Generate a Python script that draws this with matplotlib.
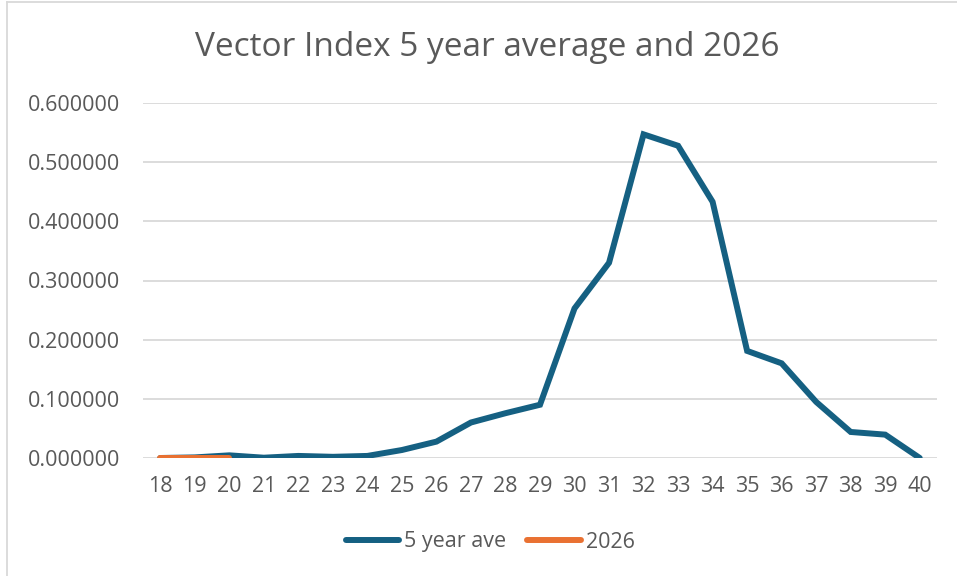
import matplotlib.pyplot as plt
from matplotlib.lines import Line2D

# data
weeks = [str(w) for w in range(18, 41)]
five_year_ave = [0.0, 0.001, 0.0045, 0.0005, 0.0035, 0.002, 0.0035, 0.0135, 0.0277,
                 0.060, 0.0757, 0.0900, 0.2528, 0.330, 0.547, 0.5277, 0.433, 0.181,
                 0.160, 0.0948, 0.044, 0.0395, 0.0]
y2026 = [0.0, 0.0, 0.0]

blue = '#156082'
orange = '#E97132'
grey_text = '#595959'

plt.rcParams['font.family'] = ['Open Sans', 'DejaVu Sans']

fig = plt.figure(figsize=(9.57, 5.76), dpi=100)
ax = fig.add_axes([143 / 957, 1 - 458 / 576, (937 - 143) / 957, (458 - 103) / 576])

x = list(range(len(weeks)))
ax.plot(x, five_year_ave, color=blue, lw=4.3, solid_joinstyle='miter', solid_capstyle='round',
        label='5 year ave', zorder=3)
ax.plot(x[:len(y2026)], y2026, color=orange, lw=4.3, solid_capstyle='round', label='2026', zorder=4)

ax.set_xlim(-0.5, len(weeks) - 0.5)
ax.set_ylim(0, 0.6)
ax.set_yticks([0.0, 0.1, 0.2, 0.3, 0.4, 0.5, 0.6])
ax.set_yticklabels(['%.6f' % v for v in ax.get_yticks()])
ax.set_xticks(x)
ax.set_xticklabels(weeks)
ax.tick_params(axis='both', length=0, labelsize=15.5, labelcolor=grey_text)
ax.tick_params(axis='y', pad=16.5)
ax.tick_params(axis='x', pad=13)
ax.grid(axis='y', color='#D9D9D9', lw=1.3)
ax.set_axisbelow(True)
for s in ax.spines.values():
    s.set_visible(False)

fig.text(487 / 957, 1 - 47 / 576, 'Vector Index 5 year average and 2026', ha='center', va='center',
         fontsize=24, color=grey_text)

handles = [Line2D([], [], color=blue, lw=4.3, solid_capstyle='round'),
           Line2D([], [], color=orange, lw=4.3, solid_capstyle='round')]
fig.legend(handles, ['5 year ave', '2026'], loc='center', bbox_to_anchor=(490 / 957, 1 - 542 / 576),
           ncol=2, frameon=False, fontsize=15.5, labelcolor=grey_text, handlelength=2.5,
           handletextpad=0.2, columnspacing=1.0)

# chart area border (left and top edges visible)
fig.add_artist(Line2D([6.5 / 957, 6.5 / 957], [0, 1 - 1.5 / 576], color='#D9D9D9', lw=1.3))
fig.add_artist(Line2D([6.5 / 957, 1], [1 - 1.5 / 576, 1 - 1.5 / 576], color='#D9D9D9', lw=1.3))

fig.savefig('out.png', dpi=100)
